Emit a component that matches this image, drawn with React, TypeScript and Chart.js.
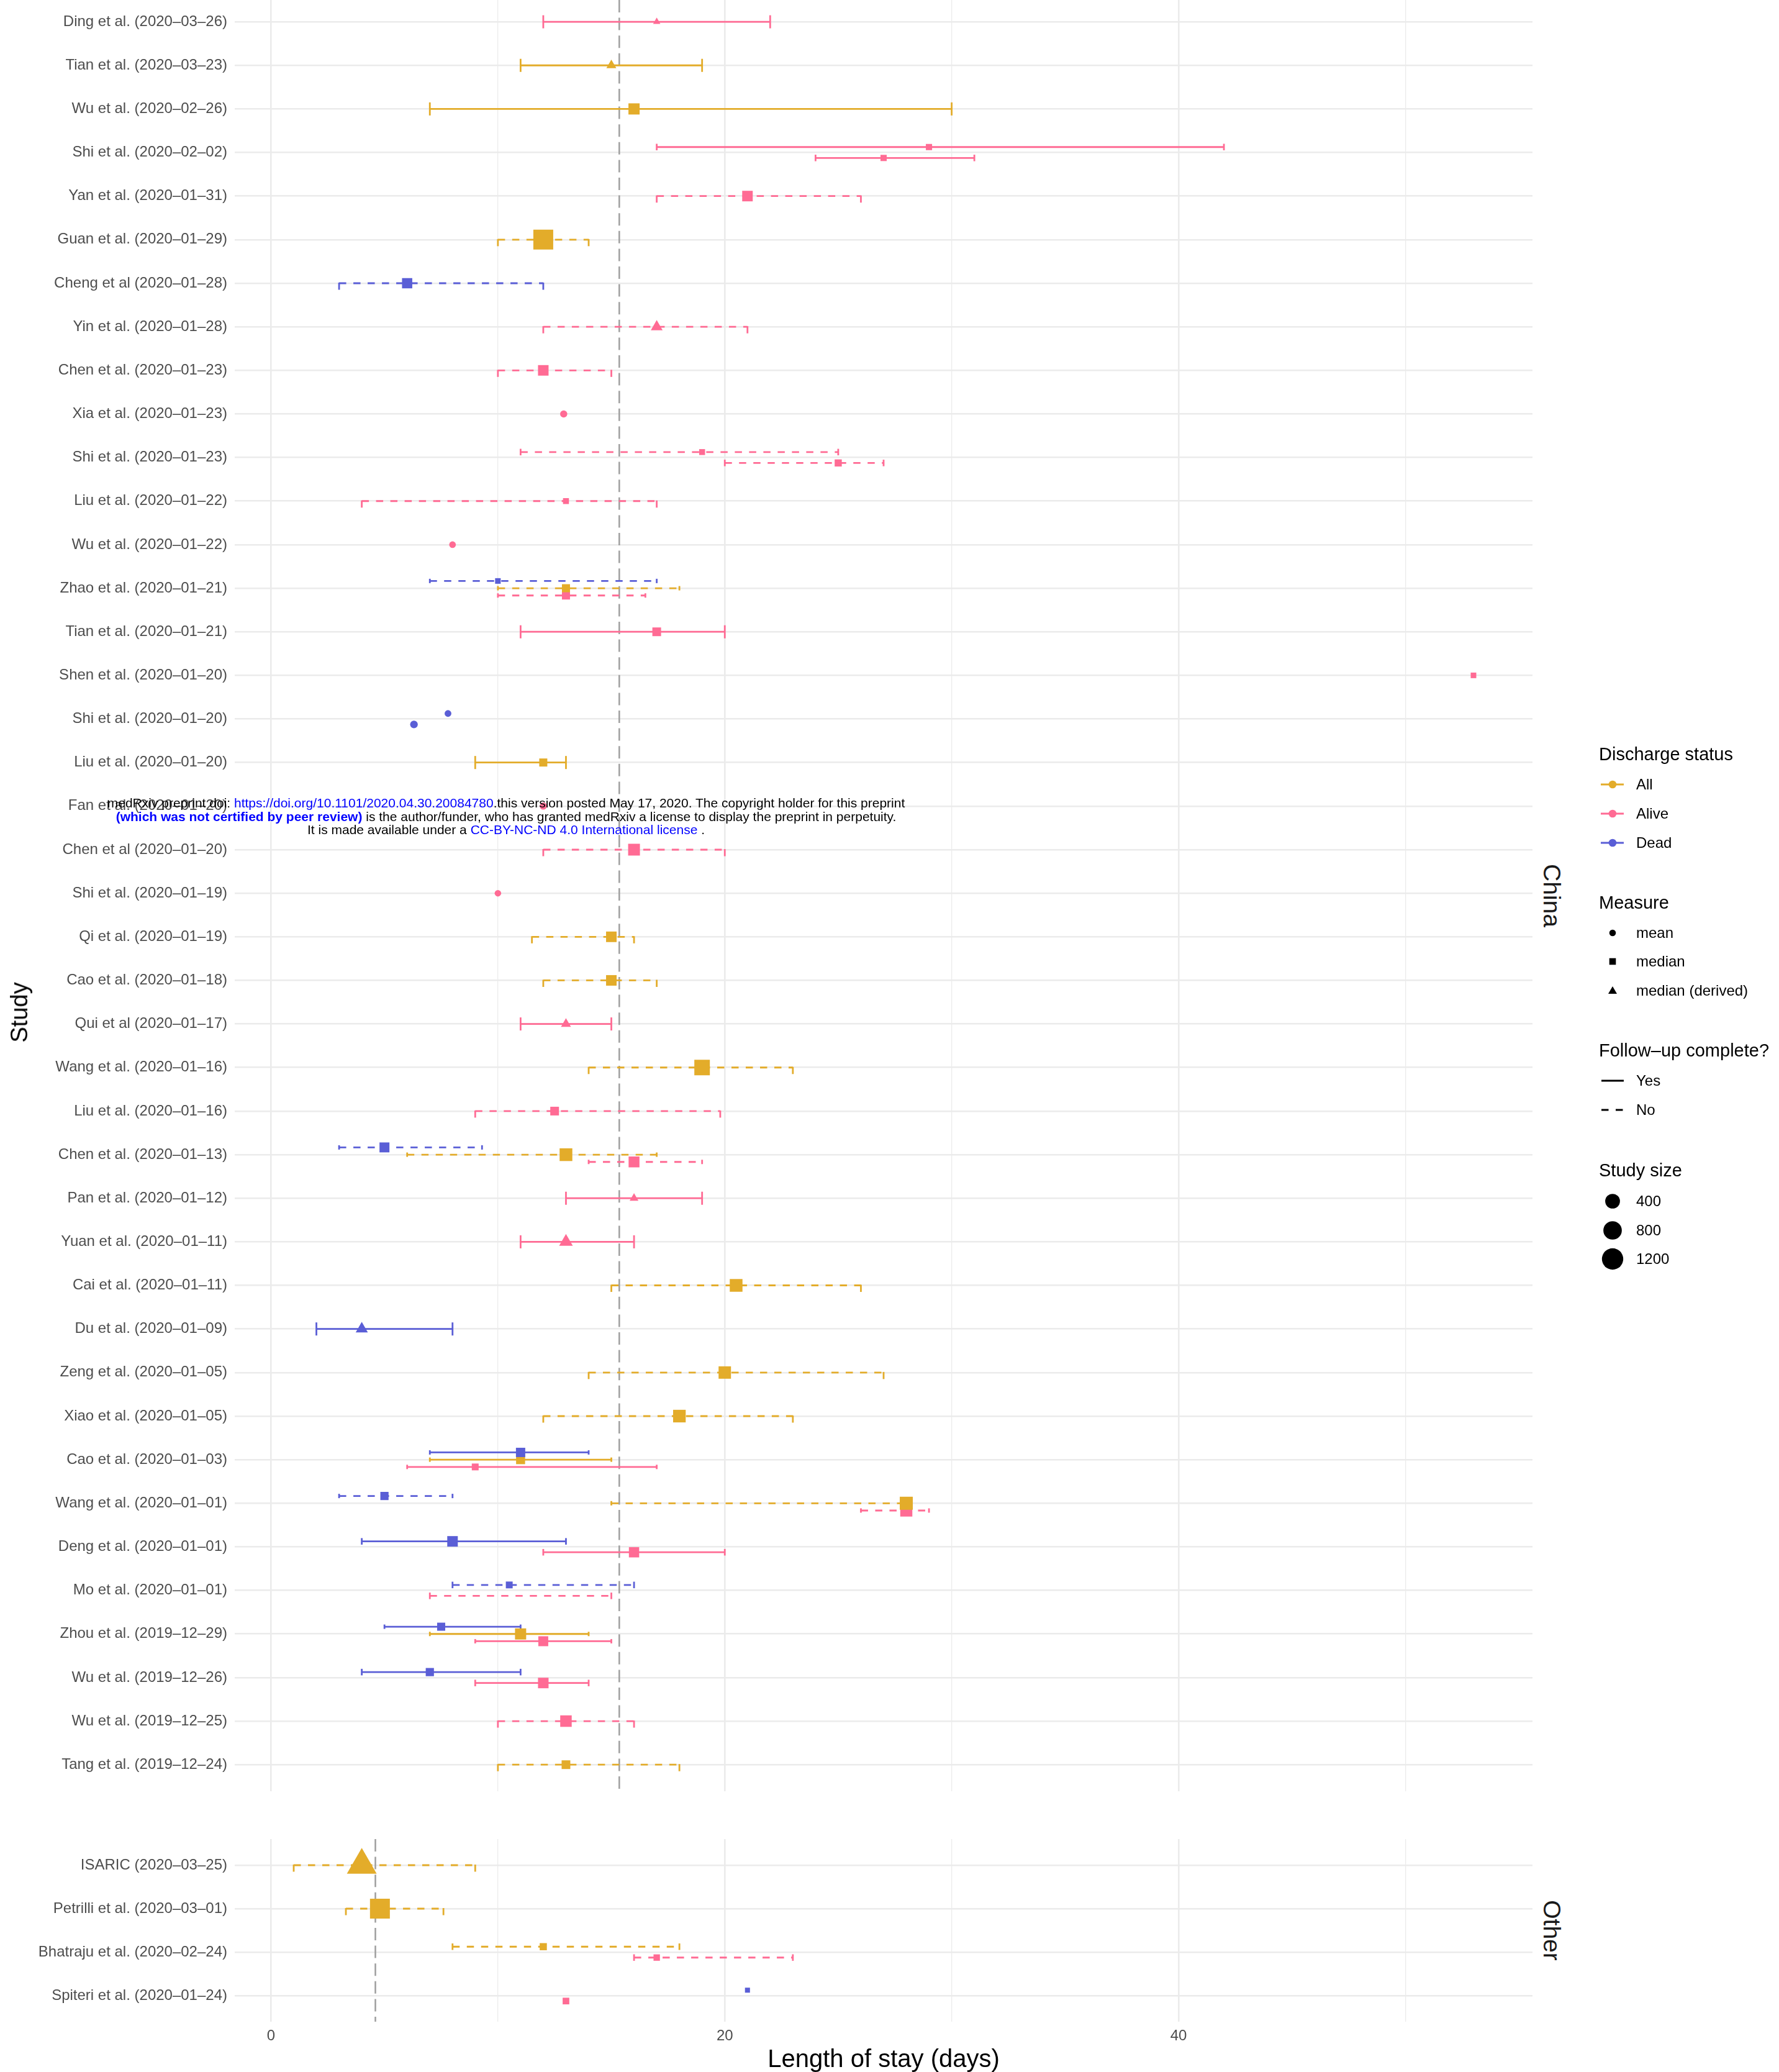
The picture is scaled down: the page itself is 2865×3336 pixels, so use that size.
import React, { useEffect, useRef } from "react";
import { Chart, registerables } from "chart.js";

Chart.register(...registerables);

const FONT = "'Liberation Sans', Arial, Helvetica, sans-serif";

// ---------------- data ----------------
const CHINA_STUDIES = [
  "Ding et al. (2020–03–26)",
  "Tian et al. (2020–03–23)",
  "Wu et al. (2020–02–26)",
  "Shi et al. (2020–02–02)",
  "Yan et al. (2020–01–31)",
  "Guan et al. (2020–01–29)",
  "Cheng et al (2020–01–28)",
  "Yin et al. (2020–01–28)",
  "Chen et al. (2020–01–23)",
  "Xia et al. (2020–01–23)",
  "Shi et al. (2020–01–23)",
  "Liu et al. (2020–01–22)",
  "Wu et al. (2020–01–22)",
  "Zhao et al. (2020–01–21)",
  "Tian et al. (2020–01–21)",
  "Shen et al. (2020–01–20)",
  "Shi et al. (2020–01–20)",
  "Liu et al. (2020–01–20)",
  "Fan et al. (2020–01–20)",
  "Chen et al (2020–01–20)",
  "Shi et al. (2020–01–19)",
  "Qi et al. (2020–01–19)",
  "Cao et al. (2020–01–18)",
  "Qui et al (2020–01–17)",
  "Wang et al. (2020–01–16)",
  "Liu et al. (2020–01–16)",
  "Chen et al. (2020–01–13)",
  "Pan et al. (2020–01–12)",
  "Yuan et al. (2020–01–11)",
  "Cai et al. (2020–01–11)",
  "Du et al. (2020–01–09)",
  "Zeng et al. (2020–01–05)",
  "Xiao et al. (2020–01–05)",
  "Cao et al. (2020–01–03)",
  "Wang et al. (2020–01–01)",
  "Deng et al. (2020–01–01)",
  "Mo et al. (2020–01–01)",
  "Zhou et al. (2019–12–29)",
  "Wu et al. (2019–12–26)",
  "Wu et al. (2019–12–25)",
  "Tang et al. (2019–12–24)",
];

const OTHER_STUDIES = [
  "ISARIC (2020–03–25)",
  "Petrilli et al. (2020–03–01)",
  "Bhatraju et al. (2020–02–24)",
  "Spiteri et al. (2020–01–24)",
];

const D = "median (derived)";
const M = "median";
const A = "mean";

// China entries (one per estimate; order within a study = top to bottom)
const CHINA_ROW = [0, 1, 2, 3, 3, 4, 5, 6, 7, 8, 9, 10, 10, 11, 12, 13, 13, 13, 14, 15, 16, 16, 17, 18, 19, 20, 21, 22, 23, 24, 25, 26, 26, 26, 27, 28, 29, 30, 31, 32, 33, 33, 33, 34, 34, 34, 35, 35, 36, 36, 37, 37, 37, 38, 38, 39, 40];
const CHINA_STATUS = ["Alive", "All", "All", "Alive", "Alive", "Alive", "All", "Dead", "Alive", "Alive", "Alive", "Alive", "Alive", "Alive", "Alive", "Dead", "All", "Alive", "Alive", "Alive", "Dead", "Dead", "All", "Alive", "Alive", "Alive", "All", "All", "Alive", "All", "Alive", "Dead", "All", "Alive", "Alive", "Alive", "All", "Dead", "All", "All", "Dead", "All", "Alive", "Dead", "All", "Alive", "Dead", "Alive", "Dead", "Alive", "Dead", "All", "Alive", "Dead", "Alive", "Alive", "All"];
const CHINA_MEASURE = [D, D, M, M, M, M, M, M, D, M, A, M, M, M, A, M, M, M, M, M, A, A, M, A, M, A, M, M, D, M, M, M, M, M, D, D, M, D, M, M, M, M, M, M, M, M, M, M, M, M, M, M, M, M, M, M, M];
const CHINA_COMPLETE = ["Yes", "Yes", "Yes", "Yes", "Yes", "No", "No", "No", "No", "No", "Yes", "No", "No", "No", "Yes", "No", "No", "No", "Yes", "Yes", "Yes", "Yes", "Yes", "Yes", "No", "Yes", "No", "No", "Yes", "No", "No", "No", "No", "No", "Yes", "Yes", "No", "Yes", "No", "No", "Yes", "Yes", "Yes", "No", "No", "No", "Yes", "Yes", "No", "No", "Yes", "Yes", "Yes", "Yes", "Yes", "No", "No"];
const CHINA_N = [1, 24, 212, 16, 16, 175, 1099, 158, 56, 175, 10, 11, 35, 11, 4, 7, 63, 63, 86, 7, 5, 18, 63, 10, 253, 3, 175, 175, 24, 570, 86, 142, 320, 193, 10, 103, 320, 64, 296, 310, 112, 98, 28, 67, 344, 274, 175, 160, 28, null, 63, 212, 142, 67, 175, 232, 86];
const CHINA_EST = [17, 15, 16, 29, 27, 21, 12, 6, 17, 12, 12.9, 19, 25, 13, 8, 10, 13, 13, 17, 53, 7.8, 6.3, 12, 12, 16, 10, 15, 15, 13, 19, 12.5, 5, 13, 16, 16, 13, 20.5, 4, 20, 18, 11, 11, 9, 5, 28, 28, 8, 16, 10.5, null, 7.5, 11, 12, 7, 12, 13, 13];
const CHINA_LO = [12, 11, 7, 17, 24, 17, 10, 3, 12, 10, null, 11, 20, 4, null, 7, 10, 10, 11, null, null, null, 9, null, 12, null, 11.5, 12, 11, 14, 9, 3, 6, 14, 13, 11, 15, 2, 14, 12, 7, 7, 6, 3, 15, 26, 4, 12, 8, 7, 5, 7, 9, 4, 9, 10, 10];
const CHINA_HI = [22, 19, 30, 42, 31, 26, 14, 12, 21, 15, null, 25, 27, 17, null, 17, 18, 16.5, 20, null, null, null, 13, null, 20, null, 16, 17, 15, 23, 19.8, 9.3, 17, 19, 19, 16, 26, 8, 27, 23, 14, 15, 17, 8, 28, 29, 13, 20, 16, 15, 11, 14, 15, 11, 14, 16, 18];

// Other entries
const OTHER_ROW = [0, 1, 2, 2, 3, 3];
const OTHER_STATUS = ["All", "All", "All", "Alive", "Dead", "Alive"];
const OTHER_MEASURE = [D, M, M, M, M, M];
const OTHER_COMPLETE = ["No", "No", "No", "No", "Yes", "Yes"];
const OTHER_N = [1100, 1100, 36, 19, 2, 24];
const OTHER_EST = [4, 4.8, 12, 17, 21, 13];
const OTHER_LO = [1, 3.3, 8, 16, null, null];
const OTHER_HI = [9, 7.6, 18, 23, null, null];

// Reference (dashed vertical) lines
const CHINA_REF = 15.35;
const OTHER_REF = 4.6;

// Axis
const X_MIN = -1.6;
const X_MAX = 55.6;
const X_GRID = [0, 10, 20, 30, 40, 50];
const X_LABELED = [0, 20, 40];

// Legend levels
const STATUS_LEVELS = ["All", "Alive", "Dead"];
const MEASURE_LEVELS = ["mean", "median", "median (derived)"];
const FOLLOWUP_LEVELS = ["Yes", "No"];
const SIZE_BREAKS = [400, 800, 1200];

// ---------------- styling ----------------
const STATUS_COLORS: Record<string, string> = {
  All: "#E3AC2A",
  Alive: "#FF6B94",
  Dead: "#5A5ED6",
};
const GRID_COLOR = "#EBEBEB";
const TICK_COLOR = "#4D4D4D";
const REF_COLOR = "#9E9E9E";
const DODGE = 0.5;
const CAP = 0.3;
const LINE_W = 2.8;
const DASH = [11.5, 11.5];
const REF_DASH = [20, 8.6];

function shapeOf(m: string) {
  return m === "mean" ? "circle" : m === "median" ? "rect" : "triangle";
}
function markerF(n: number) {
  return 9 + 0.966 * Math.sqrt(n);
}
function circleDiam(n: number) {
  return 0.75 * markerF(n) + 2.5;
}
function radiusOf(m: string, n: number) {
  const F = markerF(n);
  if (m === "mean") return circleDiam(n) / 2;
  if (m === "median") return (0.78 * F) / Math.SQRT2;
  return (1.17 * F) / Math.sqrt(3);
}

type Panel = {
  row: number[];
  status: string[];
  measure: string[];
  complete: string[];
  n: (number | null)[];
  est: (number | null)[];
  lo: (number | null)[];
  hi: (number | null)[];
};

const CHINA: Panel = {
  row: CHINA_ROW,
  status: CHINA_STATUS,
  measure: CHINA_MEASURE,
  complete: CHINA_COMPLETE,
  n: CHINA_N,
  est: CHINA_EST,
  lo: CHINA_LO,
  hi: CHINA_HI,
};
const OTHER: Panel = {
  row: OTHER_ROW,
  status: OTHER_STATUS,
  measure: OTHER_MEASURE,
  complete: OTHER_COMPLETE,
  n: OTHER_N,
  est: OTHER_EST,
  lo: OTHER_LO,
  hi: OTHER_HI,
};

function buildDatasets(p: Panel, refX: number, yMin: number, yMax: number) {
  const counts = new Map<number, number>();
  const slot: number[] = [];
  p.row.forEach((r, i) => {
    const c = counts.get(r) || 0;
    slot[i] = c;
    counts.set(r, c + 1);
  });
  const lines: any[] = [];
  const points: any[] = [];
  p.row.forEach((r, i) => {
    const k = counts.get(r) as number;
    const y = r + (slot[i] - (k - 1) / 2) * (DODGE / k);
    const h = CAP / 2 / k;
    const color = STATUS_COLORS[p.status[i]];
    const dash = p.complete[i] === "No" ? DASH : [];
    const lo = p.lo[i];
    const hi = p.hi[i];
    if (lo != null && hi != null) {
      const seg = (data: any[]) => ({
        data,
        showLine: true,
        borderColor: color,
        borderWidth: LINE_W,
        borderDash: dash,
        borderCapStyle: "butt",
        pointRadius: 0,
        pointHoverRadius: 0,
        order: 1,
      });
      lines.push(seg([{ x: lo, y }, { x: hi, y }]));
      lines.push(seg([{ x: lo, y: y + h }, { x: lo, y: y - h }]));
      lines.push(seg([{ x: hi, y: y + h }, { x: hi, y: y - h }]));
    }
    const est = p.est[i];
    if (est != null) {
      points.push({
        data: [{ x: est, y }],
        showLine: false,
        pointStyle: shapeOf(p.measure[i]),
        pointRadius: radiusOf(p.measure[i], p.n[i] as number),
        pointHoverRadius: radiusOf(p.measure[i], p.n[i] as number),
        pointBackgroundColor: color,
        pointBorderColor: color,
        pointBorderWidth: 0,
        backgroundColor: color,
        borderColor: color,
        order: 0,
      });
    }
  });
  const ref = {
    data: [
      { x: refX, y: yMin },
      { x: refX, y: yMax },
    ],
    showLine: true,
    borderColor: REF_COLOR,
    borderWidth: 2.5,
    borderDash: REF_DASH,
    pointRadius: 0,
    pointHoverRadius: 0,
    order: 2,
  };
  return [ref, ...lines, ...points];
}

function makeChart(
  canvas: HTMLCanvasElement,
  p: Panel,
  labels: string[],
  refX: number,
  o: { yMin: number; yMax: number; showX: boolean; padTop: number; xHeight: number }
) {
  return new Chart(canvas, {
    type: "scatter",
    data: { datasets: buildDatasets(p, refX, o.yMin, o.yMax) as any },
    options: {
      animation: false,
      responsive: false,
      maintainAspectRatio: false,
      events: [],
      layout: { autoPadding: false, padding: { top: o.padTop, right: 2, bottom: 0, left: 0 } },
      plugins: { legend: { display: false }, tooltip: { enabled: false } },
      scales: {
        x: {
          type: "linear",
          min: X_MIN,
          max: X_MAX,
          afterBuildTicks: (s: any) => {
            s.ticks = X_GRID.map((v) => ({ value: v }));
          },
          afterFit: (s: any) => {
            s.height = o.xHeight;
            s.paddingLeft = 0;
            s.paddingRight = 0;
          },
          grid: {
            color: GRID_COLOR,
            lineWidth: (ctx: any) =>
              ctx.tick && X_LABELED.includes(ctx.tick.value) ? 2.6 : 1.3,
            drawTicks: false,
          },
          border: { display: false },
          ticks: {
            display: o.showX,
            callback: (v: any) => (X_LABELED.includes(v) ? String(v) : ""),
            font: { family: FONT, size: 24 },
            color: TICK_COLOR,
            padding: 9,
            maxRotation: 0,
            autoSkip: false,
          },
        },
        y: {
          type: "linear",
          reverse: true,
          min: o.yMin,
          max: o.yMax,
          afterBuildTicks: (s: any) => {
            s.ticks = labels.map((_, i) => ({ value: i }));
          },
          afterFit: (s: any) => {
            s.width = 378;
            s.paddingTop = 0;
            s.paddingBottom = 0;
          },
          grid: { color: GRID_COLOR, lineWidth: 2.6, drawTicks: false },
          border: { display: false },
          ticks: {
            callback: (v: any) => labels[Math.round(v)] ?? "",
            font: { family: FONT, size: 24 },
            color: TICK_COLOR,
            padding: 12,
            autoSkip: false,
          },
        },
      },
    } as any,
  });
}

function Txt(props: {
  x: number;
  y: number;
  size: number;
  color?: string;
  align?: "left" | "center" | "right";
  rot?: number;
  children: any;
}) {
  const { x, y, size, color = "#000", align = "left", rot = 0, children } = props;
  const tx = align === "left" ? "0" : align === "center" ? "-50%" : "-100%";
  return (
    <div
      style={{
        position: "absolute",
        left: x,
        top: y,
        fontFamily: FONT,
        fontSize: size,
        lineHeight: 1,
        whiteSpace: "nowrap",
        color,
        transform: `translate(${tx}, -50%)${rot ? ` rotate(${rot}deg)` : ""}`,
      }}
    >
      {children}
    </div>
  );
}

function Legend() {
  const gx = 2597;
  const lx = 2635;
  const tx = 2575;
  const statusY = [1263, 1310, 1357];
  const measureY = [1502, 1548, 1595];
  const followY = [1740, 1787];
  const sizeY = [1934, 1981, 2027];
  const tri = (cx: number, cy: number, w: number) => {
    const r = w / Math.sqrt(3);
    return `${cx},${cy - r} ${cx + w / 2},${cy + r / 2} ${cx - w / 2},${cy + r / 2}`;
  };
  return (
    <>
      <svg
        width={2865}
        height={3336}
        style={{ position: "absolute", left: 0, top: 0, pointerEvents: "none" }}
      >
        {STATUS_LEVELS.map((s, i) => (
          <g key={s}>
            <line x1={2578} x2={2615} y1={statusY[i]} y2={statusY[i]} stroke={STATUS_COLORS[s]} strokeWidth={3} />
            <circle cx={gx} cy={statusY[i]} r={6.3} fill={STATUS_COLORS[s]} />
          </g>
        ))}
        <circle cx={gx} cy={measureY[0]} r={5.3} fill="#000" />
        <rect x={gx - 5.3} y={measureY[1] - 5.3} width={10.6} height={10.6} fill="#000" />
        <polygon points={tri(gx, measureY[2] + 1, 14)} fill="#000" />
        <line x1={2579} x2={2615} y1={followY[0]} y2={followY[0]} stroke="#000" strokeWidth={2.8} />
        <line x1={2579} x2={2615} y1={followY[1]} y2={followY[1]} stroke="#000" strokeWidth={2.8} strokeDasharray="11.5 11.5" />
        {SIZE_BREAKS.map((b, i) => (
          <circle key={b} cx={gx} cy={sizeY[i]} r={circleDiam(b) / 2} fill="#000" />
        ))}
      </svg>
      <Txt x={tx} y={1214} size={29}>Discharge status</Txt>
      {STATUS_LEVELS.map((s, i) => (
        <Txt key={s} x={lx} y={statusY[i]} size={24}>{s}</Txt>
      ))}
      <Txt x={tx} y={1453} size={29}>Measure</Txt>
      {MEASURE_LEVELS.map((s, i) => (
        <Txt key={s} x={lx} y={measureY[i]} size={24}>{s}</Txt>
      ))}
      <Txt x={tx} y={1691} size={29}>Follow–up complete?</Txt>
      {FOLLOWUP_LEVELS.map((s, i) => (
        <Txt key={s} x={lx} y={followY[i]} size={24}>{s}</Txt>
      ))}
      <Txt x={tx} y={1884} size={29}>Study size</Txt>
      {SIZE_BREAKS.map((s, i) => (
        <Txt key={s} x={lx} y={sizeY[i]} size={24}>{String(s)}</Txt>
      ))}
    </>
  );
}

export default function App() {
  const chinaRef = useRef<HTMLCanvasElement>(null);
  const otherRef = useRef<HTMLCanvasElement>(null);

  useEffect(() => {
    const c1 = makeChart(chinaRef.current as HTMLCanvasElement, CHINA, CHINA_STUDIES, CHINA_REF, {
      yMin: -0.5,
      yMax: CHINA_STUDIES.length - 1 + 0.61,
      showX: false,
      padTop: 0,
      xHeight: 0,
    });
    const c2 = makeChart(otherRef.current as HTMLCanvasElement, OTHER, OTHER_STUDIES, OTHER_REF, {
      yMin: -0.6,
      yMax: OTHER_STUDIES.length - 1 + 0.6,
      showX: true,
      padTop: 21,
      xHeight: 81,
    });
    return () => {
      c1.destroy();
      c2.destroy();
    };
  }, []);

  return (
    <div
      style={{
        position: "absolute",
        left: 0,
        top: 0,
        width: 2865,
        height: 3336,
        background: "#fff",
        overflow: "hidden",
        fontFamily: FONT,
      }}
    >
      <canvas
        ref={chinaRef}
        width={2470}
        height={2884}
        style={{ position: "absolute", left: 0, top: 0, width: 2470, height: 2884 }}
      />
      <canvas
        ref={otherRef}
        width={2470}
        height={396}
        style={{ position: "absolute", left: 0, top: 2940, width: 2470, height: 396 }}
      />
      <Txt x={2499} y={1442} size={39} color="#1A1A1A" align="center" rot={90}>China</Txt>
      <Txt x={2499} y={3108} size={39} color="#1A1A1A" align="center" rot={90}>Other</Txt>
      <Txt x={31} y={1630} size={38} align="center" rot={-90}>Study</Txt>
      <Txt x={1423} y={3314} size={40} align="center">Length of stay (days)</Txt>
      <Legend />
      <div
        style={{
          position: "absolute",
          left: 0,
          top: 1282,
          width: 1630,
          textAlign: "center",
          fontFamily: FONT,
          fontSize: 21,
          lineHeight: "21.5px",
          color: "#000",
          whiteSpace: "nowrap",
        }}
      >
        <div>
          medRxiv preprint doi: <span style={{ color: "#0000FF" }}>https://doi.org/10.1101/2020.04.30.20084780</span>.this version posted May 17, 2020. The copyright holder for this preprint
        </div>
        <div>
          <span style={{ color: "#0000FF", fontWeight: 700 }}>(which was not certified by peer review)</span> is the author/funder, who has granted medRxiv a license to display the preprint in perpetuity.
        </div>
        <div>
          It is made available under a <span style={{ color: "#0000FF" }}>CC-BY-NC-ND 4.0 International license</span> .
        </div>
      </div>
    </div>
  );
}
